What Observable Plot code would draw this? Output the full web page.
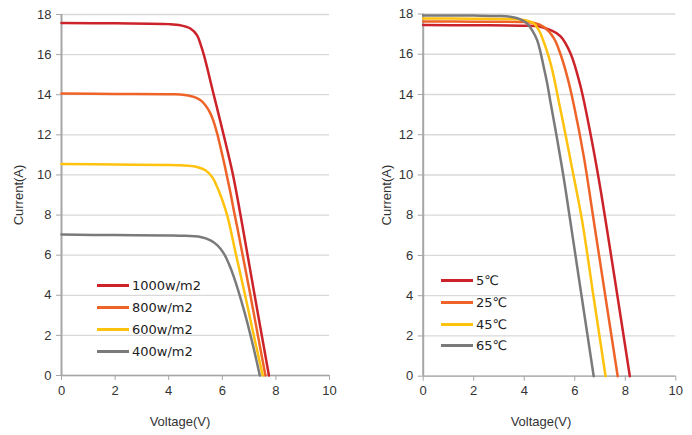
<!DOCTYPE html>
<html>
<head>
<meta charset="utf-8">
<script src="https://cdn.jsdelivr.net/npm/d3@7"></script>
<script src="https://cdn.jsdelivr.net/npm/@observablehq/plot@0.6"></script>
<style>
  body { margin: 0; background: #fff; }
  #wrap { position: relative; width: 692px; height: 435px; display: flex; }
  #wrap svg { display: block; }
  .legend { position: absolute; font-family: "DejaVu Sans", sans-serif; font-size: 13px; color: #222; }
  .row { display: flex; align-items: center; }
  .sw { width: 32px; height: 3px; margin-right: 3px; }
</style>
</head>
<body>
<div id="wrap"></div>
<script>
// ---------- data ----------
const xTicks = [0, 2, 4, 6, 8, 10];
const yTicks = [0, 2, 4, 6, 8, 10, 12, 14, 16, 18];
const colors = ["#CC2229", "#EE6428", "#FFC20E", "#7A7A7A"];

// Left chart: irradiance
const irrNames = ["1000w/m2", "800w/m2", "600w/m2", "400w/m2"];
const v1000 = [0, 2, 4, 4.44, 4.81, 5.06, 5.18, 5.31, 5.68, 6.05, 6.4, 6.68, 7.2, 7.74];
const i1000 = [17.58, 17.56, 17.52, 17.46, 17.3, 16.96, 16.55, 16.0, 14.0, 12.0, 10.0, 8.0, 4.05, 0];
const v800 = [0, 2, 4, 4.44, 4.94, 5.19, 5.37, 5.56, 5.68, 5.81, 5.93, 6.06, 6.18, 6.31, 6.43, 6.56, 6.68, 7.0, 7.3, 7.61];
const i800 = [14.06, 14.04, 14.02, 14.01, 13.89, 13.72, 13.48, 13.06, 12.65, 12.06, 11.4, 10.65, 9.9, 9.07, 8.23, 7.38, 6.55, 4.35, 2.2, 0];
const v600 = [0, 2, 4, 4.44, 5.06, 5.37, 5.62, 5.81, 6.0, 6.2, 6.5, 6.9, 7.2, 7.51];
const i600 = [10.55, 10.52, 10.5, 10.48, 10.4, 10.23, 9.9, 9.4, 8.75, 7.9, 6.1, 3.7, 1.85, 0];
const v400 = [0, 2, 4, 4.44, 5.19, 5.56, 5.81, 6.06, 6.24, 6.43, 6.8, 7.1, 7.4];
const i400 = [7.03, 7.0, 6.98, 6.97, 6.91, 6.74, 6.5, 6.08, 5.58, 4.92, 3.3, 1.75, 0];

// Right chart: temperature
const tempNames = ["5℃", "25℃", "45℃", "65℃"];
const v5 = [0, 2, 4, 4.6, 5.04, 5.43, 5.83, 6.23, 6.63, 6.95, 7.22, 7.7, 8.18];
const i5 = [17.45, 17.44, 17.42, 17.38, 17.2, 16.9, 16.05, 14.4, 12.0, 9.8, 7.74, 3.9, 0];
const v25 = [0, 2, 4, 4.4, 4.78, 5.17, 5.45, 5.7, 5.96, 6.36, 6.75, 7.22, 7.7];
const i25 = [17.63, 17.62, 17.6, 17.56, 17.35, 16.8, 15.95, 14.9, 13.5, 10.9, 7.74, 3.9, 0];
const v45 = [0, 2, 3.5, 3.9, 4.15, 4.38, 4.58, 4.77, 4.97, 5.11, 5.24, 5.37, 5.5, 5.9, 6.29, 6.75, 7.22];
const i45 = [17.78, 17.77, 17.75, 17.72, 17.66, 17.53, 17.2, 16.62, 15.87, 15.21, 14.46, 13.63, 12.85, 10.3, 7.74, 3.9, 0];
const v65 = [0, 2, 3, 3.5, 3.85, 4.11, 4.31, 4.51, 4.64, 4.77, 4.91, 5.04, 5.3, 5.57, 5.82, 6.28, 6.75];
const i65 = [17.93, 17.92, 17.9, 17.85, 17.73, 17.53, 17.2, 16.7, 16.12, 15.37, 14.54, 13.61, 11.8, 9.8, 7.74, 3.9, 0];

// ---------- build ----------
function rows(names, vs, is) {
  return names.flatMap((n, k) => vs[k].map((v, j) => ({ series: n, V: v, I: is[k][j] })));
}

function chart(names, data, cfg) {
  return Plot.plot({
    width: 346, height: 435,
    marginLeft: cfg.ml, marginRight: cfg.mr, marginTop: cfg.mt, marginBottom: cfg.mb,
    style: { fontFamily: "'Liberation Sans', Arial, sans-serif", fontSize: "13px", color: "#333", background: "white", overflow: "visible" },
    x: { domain: [0, 10] },
    y: { domain: [0, 18] },
    color: { domain: names, range: colors },
    marks: [
      Plot.gridY(yTicks, { stroke: "#d9d9d9", strokeOpacity: 1, strokeWidth: 1.3 }),
      Plot.axisY(yTicks, { tickSize: 5, tickPadding: 5, stroke: "#a6a6a6", fill: "#333", label: null, tickFormat: d => d }),
      Plot.axisX(xTicks, { tickSize: 5, tickPadding: 5, stroke: "#a6a6a6", fill: "#333", label: null, tickFormat: d => d }),
      Plot.ruleY([0], { stroke: "#a6a6a6", strokeWidth: 1.3 }),
      Plot.ruleX([0], { stroke: "#a6a6a6", strokeWidth: 2 }),
      Plot.line(data, { x: "V", y: "I", z: "series", stroke: "series", strokeWidth: 2.5, curve: "catmull-rom" }),
      Plot.text(["Current(A)"], { frameAnchor: "left", rotate: -90, dx: cfg.ydx, textAnchor: "middle", lineAnchor: "middle", fontSize: 13, fill: "#333" }),
      Plot.text(["Voltage(V)"], { frameAnchor: "bottom", dy: 46, dx: cfg.xdx, textAnchor: "middle", lineAnchor: "middle", fontSize: 13, fill: "#333" })
    ]
  });
}

function legend(names, cfg) {
  const div = document.createElement("div");
  div.className = "legend";
  div.style.left = cfg.left + "px";
  div.style.top = cfg.top + "px";
  names.forEach((n, k) => {
    const r = document.createElement("div");
    r.className = "row";
    r.style.height = cfg.rowH + "px";
    const sw = document.createElement("span");
    sw.className = "sw";
    sw.style.background = colors[k];
    const t = document.createElement("span");
    t.textContent = n;
    r.append(sw, t);
    div.append(r);
  });
  return div;
}

const wrap = document.getElementById("wrap");
wrap.append(
  chart(irrNames, rows(irrNames, [v1000, v800, v600, v400], [i1000, i800, i600, i400]),
        { ml: 61, mr: 17, mt: 14, mb: 60, ydx: -43, xdx: -15.5 }),
  chart(tempNames, rows(tempNames, [v5, v25, v45, v65], [i5, i25, i45, i65]),
        { ml: 76.7, mr: 16.7, mt: 13.5, mb: 59.3, ydx: -36.3, xdx: -8.5 })
);
wrap.append(legend(irrNames, { left: 97, top: 274, rowH: 22 }));
wrap.append(legend(tempNames, { left: 441, top: 270, rowH: 21.7 }));
</script>
</body>
</html>
